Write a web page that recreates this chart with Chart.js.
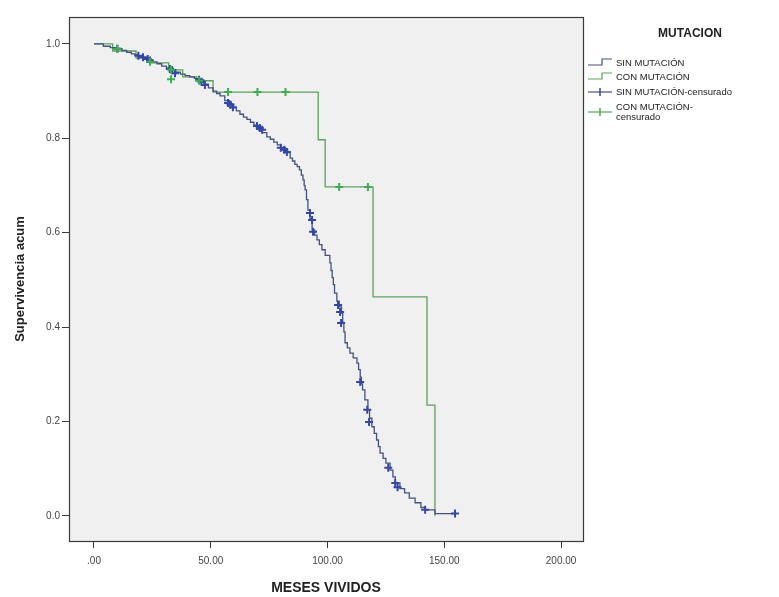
<!DOCTYPE html>
<html>
<head>
<meta charset="utf-8">
<script src="https://cdn.jsdelivr.net/npm/chart.js@4.4.1/dist/chart.umd.min.js"></script>
<style>
  html, body { margin: 0; padding: 0; background: #fff; }
  #wrap { position: relative; width: 779px; height: 597px; font-family: "Liberation Sans", Arial, sans-serif; }
  #legend { position: absolute; left: 586px; top: 0; width: 193px; height: 140px; color: #222; }
  #legend .ttl { position: absolute; left: 0; top: 26px; width: 208px; text-align: center; font-weight: bold; font-size: 12px; }
  #legend .row { position: absolute; left: 0; height: 14px; }
  #legend svg { position: absolute; left: 0; top: 0; }
  #legend span { position: absolute; left: 30px; top: 0; font-size: 9.5px; line-height: 10px; white-space: nowrap; }
</style>
</head>
<body>
<div id="wrap">
  <canvas id="km" width="779" height="597"></canvas>
  <div id="legend">
    <div class="ttl">MUTACION</div>
    <div class="row" style="top:56px">
      <svg width="28" height="14"><polyline points="2,9 16,9 16,3 26,3" fill="none" stroke="#44527e" stroke-width="1.2"/></svg>
      <span style="top:2px">SIN MUTACIÓN</span>
    </div>
    <div class="row" style="top:70px">
      <svg width="28" height="14"><polyline points="2,9 16,9 16,3 26,3" fill="none" stroke="#5aa25a" stroke-width="1.2"/></svg>
      <span style="top:2px">CON MUTACIÓN</span>
    </div>
    <div class="row" style="top:85px">
      <svg width="28" height="14"><line x1="2" y1="7" x2="26" y2="7" stroke="#44527e" stroke-width="1.2"/><line x1="14" y1="3" x2="14" y2="11" stroke="#3347a8" stroke-width="1.5"/></svg>
      <span style="top:2px">SIN MUTACIÓN-censurado</span>
    </div>
    <div class="row" style="top:105px">
      <svg width="28" height="14"><line x1="2" y1="7" x2="26" y2="7" stroke="#5aa25a" stroke-width="1.2"/><line x1="14" y1="3" x2="14" y2="11" stroke="#3cae4c" stroke-width="1.5"/></svg>
      <span style="top:-3px">CON MUTACIÓN-<br>censurado</span>
    </div>
  </div>
</div>
<script>
// tiempos (meses) y supervivencia acumulada
const sinTime = [0, 4, 7, 10, 12, 14, 16, 17.5, 19, 21, 23, 25, 27, 29, 31, 33, 35, 37, 39, 41, 43, 44.5, 47, 49,
  51, 52.5, 54, 56, 58, 59.5, 61, 62.5, 64, 65.5, 67, 68.5, 70, 72, 74, 75.5, 77, 78.5, 80, 82, 84, 85, 86, 87, 88,
  88.8, 89.5, 90, 90.4, 91, 91.6, 92.5, 93.4, 94.5, 95.5, 96.5, 97.6, 99, 101, 101.5, 102, 102.5, 103, 104, 105, 106,
  106.5, 107, 107.5, 108.5, 109.6, 111, 112.6, 113.3, 114, 114.5, 115, 116, 117.3, 118, 119, 120, 121, 121.8, 122.5,
  123.8, 125, 126.8, 128, 129, 131, 133, 135, 137.5, 140, 141.8, 146, 154.6];
const sinSurv = [1.0, 0.995, 0.992, 0.99, 0.986, 0.982, 0.979, 0.977, 0.974, 0.97, 0.966, 0.962, 0.958, 0.953, 0.949,
  0.945, 0.94, 0.936, 0.933, 0.93, 0.927, 0.924, 0.915, 0.907,
  0.9, 0.895, 0.89, 0.88, 0.871, 0.865, 0.858, 0.851, 0.845, 0.84, 0.834, 0.828, 0.822, 0.812, 0.803, 0.798, 0.792,
  0.786, 0.78, 0.77, 0.758, 0.752, 0.745, 0.74, 0.733,
  0.722, 0.712, 0.7, 0.691, 0.67, 0.648, 0.63, 0.606, 0.595, 0.585, 0.575, 0.564, 0.552, 0.536, 0.52, 0.505, 0.49,
  0.472, 0.455, 0.443, 0.43,
  0.41, 0.39, 0.367, 0.356, 0.345, 0.335, 0.324, 0.31, 0.294, 0.28, 0.267, 0.246, 0.225, 0.207, 0.189, 0.175, 0.161,
  0.147, 0.133,
  0.122, 0.112, 0.097, 0.083, 0.07, 0.058, 0.049, 0.038, 0.028, 0.018, 0.013, 0.005, 0.005];

const conTime = [0, 8, 18, 24, 32, 38, 44, 51, 96, 99, 119.5, 142.6, 146];
const conSurv = [1.0, 0.985, 0.97, 0.96, 0.945, 0.93, 0.922, 0.898, 0.797, 0.697, 0.464, 0.235, 0.0];

// casos censurados
const sinCensTime = [10, 19, 21, 23, 24, 32.5, 33.5, 34.7, 45, 46, 47.5, 57.4, 58.5, 59.5, 69.8, 71, 72, 80, 81.5, 82.6,
  92.5, 93.4, 93.8, 104.5, 105.4, 105.8, 114, 117, 117.8, 126, 129, 130, 141.8, 154.6];
const sinCensSurv = [0.99, 0.975, 0.972, 0.968, 0.965, 0.947, 0.944, 0.938, 0.924, 0.92, 0.913, 0.875, 0.871, 0.866,
  0.826, 0.822, 0.818, 0.78, 0.776, 0.771, 0.642, 0.627, 0.602, 0.447, 0.432, 0.409, 0.284, 0.225, 0.199, 0.102, 0.07,
  0.061, 0.013, 0.005];

const conCensTime = [10, 24, 33, 33, 45, 57.4, 70, 82, 105, 117.3];
const conCensSurv = [0.99, 0.962, 0.945, 0.925, 0.922, 0.898, 0.898, 0.898, 0.697, 0.697];

const xTicks = [0, 50, 100, 150, 200];
const yTicks = [0, 0.2, 0.4, 0.6, 0.8, 1.0];

const pts = (xs, ys) => xs.map((x, i) => ({ x, y: ys[i] }));

const framePlugin = {
  id: 'frame',
  beforeDraw(chart) {
    const { ctx, chartArea: a } = chart;
    ctx.save();
    ctx.fillStyle = '#f0f0f0';
    ctx.fillRect(a.left, a.top, a.right - a.left, a.bottom - a.top);
    ctx.restore();
  },
  afterDraw(chart) {
    const { ctx, chartArea: a } = chart;
    ctx.save();
    ctx.strokeStyle = '#3a3a3a';
    ctx.lineWidth = 1.2;
    ctx.strokeRect(a.left + 0.5, a.top + 0.5, a.right - a.left, a.bottom - a.top);
    ctx.restore();
  }
};

new Chart(document.getElementById('km'), {
  type: 'line',
  data: {
    datasets: [
      { label: 'SIN MUTACIÓN', data: pts(sinTime, sinSurv), stepped: true, borderColor: '#44527e', borderWidth: 1.3, pointRadius: 0, order: 2 },
      { label: 'CON MUTACIÓN', data: pts(conTime, conSurv), stepped: true, borderColor: '#5aa25a', borderWidth: 1.3, pointRadius: 0, order: 3 },
      { label: 'SIN MUTACIÓN-censurado', data: pts(sinCensTime, sinCensSurv), showLine: false, pointStyle: 'cross',
        pointRadius: 4, borderColor: '#3347a8', borderWidth: 2, order: 1 },
      { label: 'CON MUTACIÓN-censurado', data: pts(conCensTime, conCensSurv), showLine: false, pointStyle: 'cross',
        pointRadius: 4, borderColor: '#3cae4c', borderWidth: 2, order: 0 }
    ]
  },
  options: {
    responsive: false,
    animation: false,
    layout: { padding: { left: 0, right: 196, top: 17, bottom: 0 } },
    plugins: { legend: { display: false }, tooltip: { enabled: false } },
    scales: {
      x: {
        type: 'linear',
        min: -10.7, max: 209.4,
        afterBuildTicks: s => { s.ticks = xTicks.map(v => ({ value: v })); },
        afterFit: s => { s.height = 56; },
        grid: { display: true, drawOnChartArea: false, drawTicks: true, tickLength: 7, color: '#3a3a3a' },
        border: { display: false },
        ticks: { color: '#444', font: { size: 10, family: '"Liberation Sans", Arial' }, padding: 7,
          callback: v => v === 0 ? '.00' : v.toFixed(2) },
        title: { display: true, text: 'MESES VIVIDOS', color: '#222',
          font: { size: 14, weight: 'bold', family: '"Liberation Sans", Arial' }, padding: { top: 4, bottom: 0 } }
      },
      y: {
        type: 'linear',
        min: -0.053, max: 1.057,
        afterBuildTicks: s => { s.ticks = yTicks.map(v => ({ value: v })); },
        afterFit: s => { s.width = 69; },
        grid: { display: true, drawOnChartArea: false, drawTicks: true, tickLength: 7, color: '#3a3a3a' },
        border: { display: false },
        ticks: { color: '#444', font: { size: 10, family: '"Liberation Sans", Arial' }, padding: 2,
          callback: v => v.toFixed(1) },
        title: { display: true, text: 'Supervivencia acum', color: '#222',
          font: { size: 13, weight: 'bold', family: '"Liberation Sans", Arial' }, padding: { top: 13, bottom: 0 } }
      }
    }
  },
  plugins: [framePlugin]
});
</script>
</body>
</html>
